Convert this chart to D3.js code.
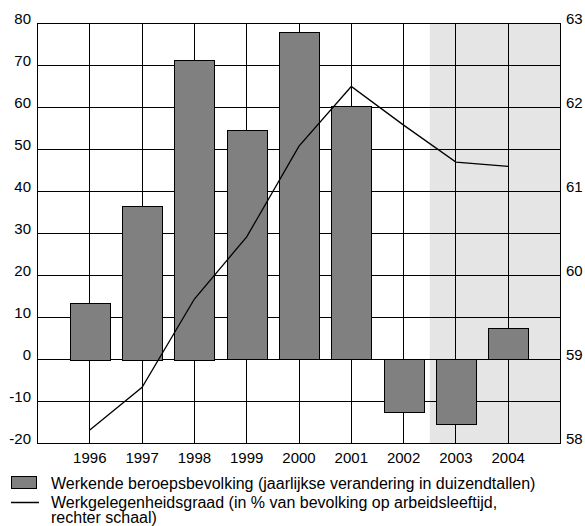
<!DOCTYPE html>
<html>
<head>
<meta charset="utf-8">
<script src="https://cdn.jsdelivr.net/npm/d3@7"></script>
<style>
  html, body { margin: 0; padding: 0; background: #fff; }
  svg { display: block; font-family: "Liberation Sans", Arial, Helvetica, sans-serif; }
</style>
</head>
<body>
<svg id="chart" width="585" height="526"></svg>
<script>
// Years on the horizontal axis
const years = [1996, 1997, 1998, 1999, 2000, 2001, 2002, 2003, 2004];
// Werkende beroepsbevolking, jaarlijkse verandering (x 1000)
const employedChange = [13.4, 36.5, 71.2, 54.5, 77.8, 60.2, -12.7, -15.5, 7.3];
// Werkgelegenheidsgraad (% van bevolking op arbeidsleeftijd)
const employmentRate = [58.16, 58.67, 59.72, 60.46, 61.54, 62.25, 61.79, 61.35, 61.30];
// Axis ticks
const leftTicks = [80, 70, 60, 50, 40, 30, 20, 10, 0, -10, -20];
const rightTicks = [63, 62, 61, 60, 59, 58];
// Projection period (shaded)
const forecastSpan = [2002.5, 2005];
// Legend entries
const legendBar = "Werkende beroepsbevolking (jaarlijkse verandering in duizendtallen)";
const legendLine = ["Werkgelegenheidsgraad (in % van bevolking op arbeidsleeftijd,", "rechter schaal)"];

const svg = d3.select("#chart");
const plotL = 37.5, plotR = 560.5, plotT = 23.5, plotB = 443.5;

const x = d3.scaleLinear().domain([1995, 2005]).range([plotL, plotR]);
const yL = d3.scaleLinear().domain([-20, 80]).range([plotB, plotT]);
const yR = d3.scaleLinear().domain([58, 63]).range([plotB, plotT]);
const barW = 40;

// shaded projection area
svg.append("rect")
  .attr("x", x(forecastSpan[0]))
  .attr("y", plotT)
  .attr("width", x(forecastSpan[1]) - x(forecastSpan[0]))
  .attr("height", plotB - plotT)
  .attr("fill", "#e5e5e5");

// grid
const grid = svg.append("g").attr("stroke", "#000").attr("stroke-width", 1);
grid.selectAll("line.h").data(leftTicks).join("line")
  .attr("class", "h")
  .attr("x1", plotL).attr("x2", plotR)
  .attr("y1", d => Math.round(yL(d) - 0.5) + 0.5)
  .attr("y2", d => Math.round(yL(d) - 0.5) + 0.5);
grid.selectAll("line.v").data(years).join("line")
  .attr("class", "v")
  .attr("x1", d => Math.round(x(d) - 0.5) + 0.5)
  .attr("x2", d => Math.round(x(d) - 0.5) + 0.5)
  .attr("y1", plotT).attr("y2", plotB);

// bars
svg.append("g").selectAll("rect").data(years).join("rect")
  .attr("x", d => Math.round(x(d) - barW / 2) + 0.5)
  .attr("y", (d, i) => Math.round(yL(Math.max(0, employedChange[i])) - 0.5) + 0.5)
  .attr("width", barW)
  .attr("height", (d, i) => Math.abs(Math.round(yL(employedChange[i])) - Math.round(yL(0))))
  .attr("fill", "#808080")
  .attr("stroke", "#000")
  .attr("stroke-width", 1);

// frame
svg.append("rect")
  .attr("x", plotL).attr("y", plotT)
  .attr("width", plotR - plotL).attr("height", plotB - plotT)
  .attr("fill", "none").attr("stroke", "#000").attr("stroke-width", 1);

// employment rate line (right scale)
const line = d3.line()
  .x((d, i) => x(years[i]))
  .y(d => yR(d));
svg.append("path")
  .datum(employmentRate)
  .attr("d", line)
  .attr("fill", "none")
  .attr("stroke", "#000")
  .attr("stroke-width", 1.3);

// left axis labels
svg.append("g").selectAll("text").data(leftTicks).join("text")
  .attr("x", 31)
  .attr("y", d => yL(d) + 0.5)
  .attr("text-anchor", "end")
  .attr("font-size", 15)
  .attr("fill", "#000")
  .text(d => d);

// right axis labels
svg.append("g").selectAll("text").data(rightTicks).join("text")
  .attr("x", 566)
  .attr("y", d => yR(d) + 0.5)
  .attr("text-anchor", "start")
  .attr("font-size", 15)
  .attr("fill", "#000")
  .text(d => d);

// year labels
svg.append("g").selectAll("text").data(years).join("text")
  .attr("x", d => x(d))
  .attr("y", 463)
  .attr("text-anchor", "middle")
  .attr("font-size", 15)
  .attr("fill", "#000")
  .text(d => d);

// legend
const lg = svg.append("g");
lg.append("rect")
  .attr("x", 11.5).attr("y", 476.5).attr("width", 25).attr("height", 12)
  .attr("fill", "#808080").attr("stroke", "#000").attr("stroke-width", 1);
lg.append("line")
  .attr("x1", 11).attr("x2", 39).attr("y1", 502.5).attr("y2", 502.5)
  .attr("stroke", "#000").attr("stroke-width", 1.5);
lg.append("text").attr("x", 51).attr("y", 489).attr("font-size", 16).text(legendBar);
lg.append("text").attr("x", 51).attr("y", 507.5).attr("font-size", 16).text(legendLine[0]);
lg.append("text").attr("x", 51).attr("y", 523).attr("font-size", 16).text(legendLine[1]);
</script>
</body>
</html>
